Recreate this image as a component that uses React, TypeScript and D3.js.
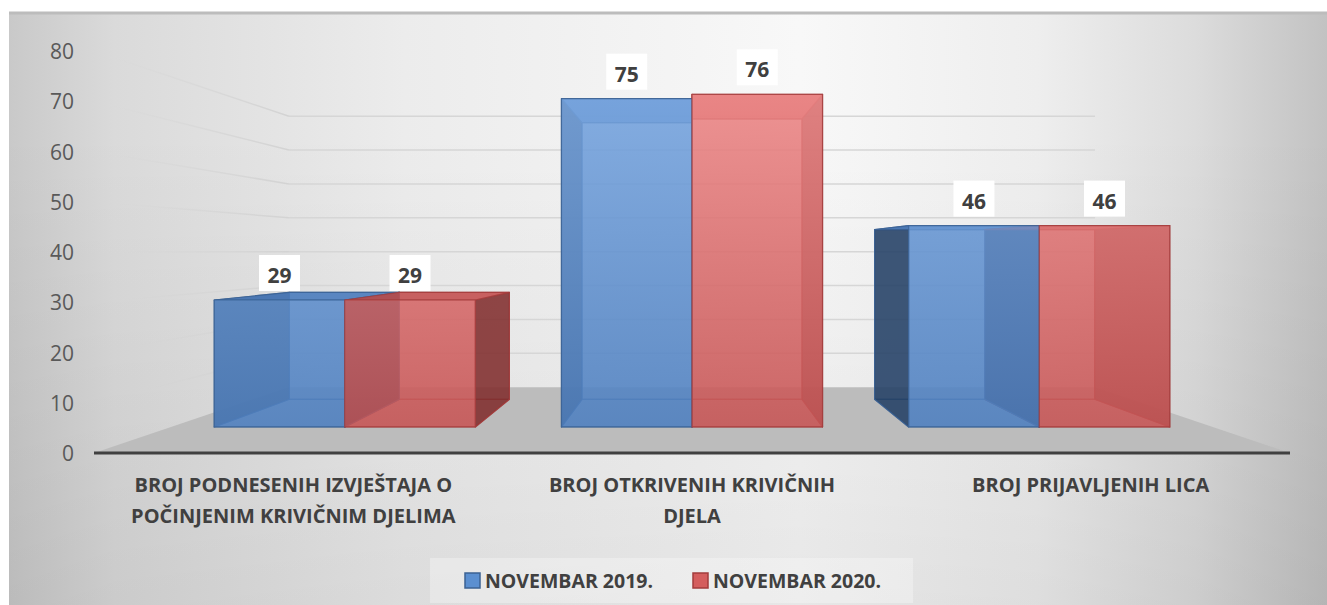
import React, { useRef, useEffect } from 'react';
import * as d3 from 'd3';

const categories = [
  'BROJ PODNESENIH IZVJEŠTAJA O POČINJENIM KRIVIČNIM DJELIMA',
  'BROJ OTKRIVENIH KRIVIČNIH DJELA',
  'BROJ PRIJAVLJENIH LICA',
];
const categoryLines = [
  ['BROJ PODNESENIH IZVJEŠTAJA O', 'POČINJENIM KRIVIČNIM DJELIMA'],
  ['BROJ OTKRIVENIH KRIVIČNIH', 'DJELA'],
  ['BROJ PRIJAVLJENIH LICA'],
];
const seriesNames = ['NOVEMBAR 2019.', 'NOVEMBAR 2020.'];
const nov2019 = [29, 75, 46];
const nov2020 = [29, 76, 46];
const yTicks = [0, 10, 20, 30, 40, 50, 60, 70, 80];

// face colours per series
const palette = [
  { top: '#80ade6', bottom: '#4c7dbd', side: '#1f3a5c', stroke: '#3b6293', legend: '#5b8fd0' },
  { top: '#f59292', bottom: '#c45252', side: '#7a2a2a', stroke: '#a33c3c', legend: '#d45e5e' },
];

const App = () => {
  const ref = useRef<SVGSVGElement>(null);

  useEffect(() => {
    if (!ref.current) return;
    const svg = d3.select(ref.current);
    svg.selectAll('*').remove();

    const W = 1327, H = 605;
    const vp = [692, 251]; // vanishing point
    const depth = { front: 1, barFront: 0.871, barBack: 0.734, wall: 0.674 };
    const project = (x: number, yy: number, s: number) => [vp[0] + (x - vp[0]) * s, vp[1] + (yy - vp[1]) * s];

    const y = d3.scaleLinear().domain([0, 80]).range([453, 51]);
    const x0 = d3.scaleBand().domain(categories).range([94, 1290]);
    const x1 = d3.scaleBand().domain(seriesNames).range([0, x0.bandwidth()]).paddingOuter(0.33);

    const defs = svg.append('defs');
    const bgH = defs.append('linearGradient').attr('id', 'bgH');
    [[0, '#c9c9c9'], [0.08, '#dadada'], [0.3, '#ececec'], [0.6, '#f8f8f8'], [0.78, '#eeeeee'], [0.9, '#dcdcdc'], [1, '#c2c2c2']]
      .forEach(([o, c]) => bgH.append('stop').attr('offset', o as number).attr('stop-color', c as string));
    const bgV = defs.append('linearGradient').attr('id', 'bgV').attr('x1', 0).attr('x2', 0).attr('y1', 0).attr('y2', 1);
    bgV.append('stop').attr('offset', 0.2).attr('stop-color', '#000').attr('stop-opacity', 0);
    bgV.append('stop').attr('offset', 1).attr('stop-color', '#000').attr('stop-opacity', 0.07);

    const fade = defs.append('linearGradient').attr('id', 'wallFade')
      .attr('gradientUnits', 'userSpaceOnUse').attr('x1', project(94, 0, depth.wall)[0]).attr('x2', 110).attr('y1', 0).attr('y2', 0);
    fade.append('stop').attr('offset', 0).attr('stop-color', '#d3d3d3').attr('stop-opacity', 1);
    fade.append('stop').attr('offset', 1).attr('stop-color', '#d3d3d3').attr('stop-opacity', 0);

    palette.forEach((p, j) => {
      const g = defs.append('linearGradient').attr('id', `front${j}`)
        .attr('gradientUnits', 'userSpaceOnUse').attr('x1', 0).attr('x2', 0).attr('y1', y(80)).attr('y2', y(0));
      g.append('stop').attr('offset', 0).attr('stop-color', p.top);
      g.append('stop').attr('offset', 1).attr('stop-color', p.bottom);
    });

    // chart area background
    svg.append('rect').attr('x', 9).attr('y', 12).attr('width', W - 9).attr('height', H - 12).attr('fill', 'url(#bgH)');
    svg.append('rect').attr('x', 9).attr('y', 12).attr('width', W - 9).attr('height', H - 12).attr('fill', 'url(#bgV)');
    svg.append('line').attr('x1', 9).attr('x2', W).attr('y1', 13).attr('y2', 13).attr('stroke', '#bcbcbc').attr('stroke-width', 3);

    // floor
    const [left, right] = x0.range();
    const floor = [
      project(left, y(0), depth.front), project(right, y(0), depth.front),
      project(right, y(0), depth.wall), project(left, y(0), depth.wall),
    ];
    svg.append('polygon').attr('points', floor.map(p => p.join(',')).join(' ')).attr('fill', '#bcbcbc');

    // gridlines on back and side walls
    const grid = svg.append('g');
    yTicks.filter(t => t > 0).forEach(t => {
      const a = project(left, y(t), depth.wall);
      const b = project(right, y(t), depth.wall);
      const c = project(left, y(t), depth.front);
      grid.append('line').attr('x1', a[0]).attr('y1', a[1]).attr('x2', b[0]).attr('y2', b[1])
        .attr('stroke', '#d6d6d6').attr('stroke-width', 1.5);
      grid.append('line').attr('x1', a[0]).attr('y1', a[1]).attr('x2', c[0]).attr('y2', c[1])
        .attr('stroke', 'url(#wallFade)').attr('stroke-width', 1.5);
    });

    svg.append('line').attr('x1', left).attr('x2', right).attr('y1', y(0)).attr('y2', y(0))
      .attr('stroke', '#404040').attr('stroke-width', 3);

    // y axis labels
    svg.append('g').selectAll('text').data(yTicks).join('text')
      .attr('x', 74).attr('y', d => y(d)).attr('text-anchor', 'end').attr('dominant-baseline', 'central')
      .attr('font-size', 21).attr('fill', '#595959').text(d => d);

    // 3d bars
    const bars = categories.flatMap((c, i) => [nov2019[i], nov2020[i]].map((v, j) => {
      const xa = x0(c)! + x1(seriesNames[j])!;
      const xb = xa + x1.bandwidth();
      const f = (xx: number, yy: number) => project(xx, yy, depth.barFront);
      const b = (xx: number, yy: number) => project(xx, yy, depth.barBack);
      const fbl = f(xa, y(0)), fbr = f(xb, y(0)), ftr = f(xb, y(v)), ftl = f(xa, y(v));
      const bbl = b(xa, y(0)), bbr = b(xb, y(0)), btr = b(xb, y(v)), btl = b(xa, y(v));
      return {
        j, v,
        back: [bbl, bbr, btr, btl],
        bottom: [fbl, fbr, bbr, bbl],
        leftSide: [fbl, ftl, btl, bbl],
        rightSide: [fbr, ftr, btr, bbr],
        top: [ftl, ftr, btr, btl],
        front: [fbl, fbr, ftr, ftl],
      };
    }));

    const pts = (p: number[][]) => p.map(q => q.join(',')).join(' ');
    const layer = (key: string, fill: (d: any) => string, op: number) =>
      svg.append('g').selectAll('polygon').data(bars).join('polygon')
        .attr('points', (d: any) => pts(d[key]))
        .attr('fill', fill).attr('fill-opacity', op)
        .attr('stroke', d => palette[d.j].stroke).attr('stroke-width', 1.2).attr('stroke-opacity', 0.8)
        .attr('stroke-linejoin', 'round');

    layer('back', d => palette[d.j].bottom, 0.4);
    layer('bottom', d => palette[d.j].bottom, 0.4);
    layer('leftSide', d => palette[d.j].side, 0.8);
    layer('rightSide', d => palette[d.j].side, 0.8);
    layer('top', d => palette[d.j].bottom, 0.85);
    layer('front', d => `url(#front${d.j})`, 0.82);

    // data labels
    const lab = svg.append('g').selectAll('g').data(bars).join('g')
      .attr('transform', d => `translate(${(d.front[0][0] + d.front[1][0]) / 2},${d.front[2][1] - 25})`);
    lab.append('rect').attr('x', -20.5).attr('y', -20).attr('width', 41).attr('height', 36).attr('fill', '#ffffff');
    lab.append('text').attr('text-anchor', 'middle').attr('dominant-baseline', 'central')
      .attr('font-size', 21).attr('font-weight', 700).attr('fill', '#404040').text(d => d.v);

    // category labels
    const cat = svg.append('g').selectAll('text').data(categories).join('text')
      .attr('x', d => x0(d)! + x0.bandwidth() / 2).attr('text-anchor', 'middle')
      .attr('font-size', 20).attr('font-weight', 700).attr('fill', '#404040');
    cat.selectAll('tspan').data((d, i) => categoryLines[i]).join('tspan')
      .attr('x', function () { return (this.parentNode as SVGTextElement).getAttribute('x'); })
      .attr('y', (d, k) => 484 + k * 31).attr('dominant-baseline', 'central').text(d => d);

    // legend
    const leg = svg.append('g');
    leg.append('rect').attr('x', 430).attr('y', 558).attr('width', 483).attr('height', 45)
      .attr('fill', '#ffffff').attr('fill-opacity', 0.3);
    const legX = [465, 693];
    seriesNames.forEach((s, j) => {
      leg.append('rect').attr('x', legX[j]).attr('y', 573).attr('width', 15).attr('height', 15)
        .attr('fill', palette[j].legend).attr('stroke', palette[j].stroke).attr('stroke-width', 1.5);
      leg.append('text').attr('x', legX[j] + 20).attr('y', 580.5).attr('dominant-baseline', 'central')
        .attr('font-size', 19.5).attr('font-weight', 700).attr('fill', '#404040').text(s);
    });
  }, []);

  return (
    <svg ref={ref} width={1327} height={605}
      style={{ position: 'absolute', left: 0, top: 0, fontFamily: "'Open Sans', sans-serif" }} />
  );
};

export default App;
